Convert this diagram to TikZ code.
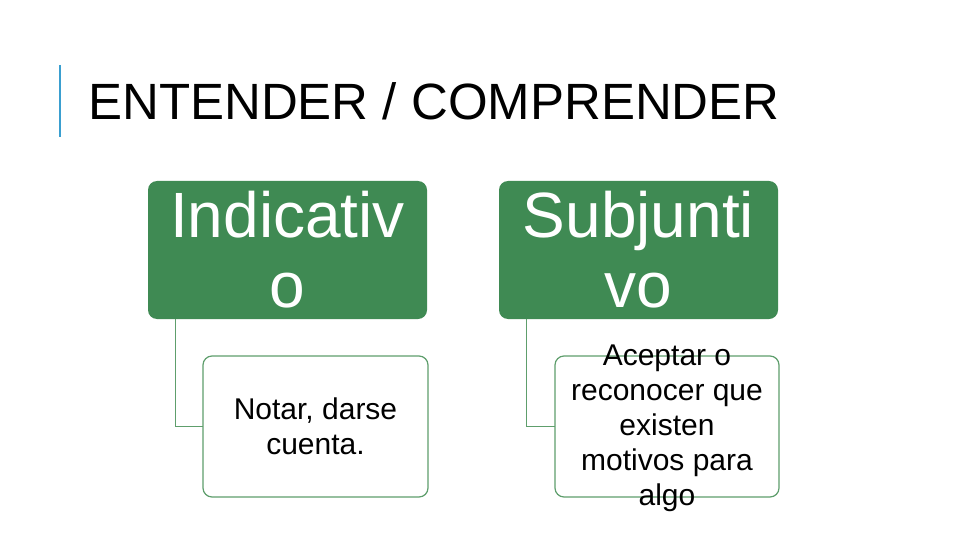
\documentclass[tikz,border=0pt]{standalone}
\usepackage{fontspec}
\setmainfont{Liberation Sans}
\definecolor{gr}{HTML}{3F8A53}
\definecolor{grl}{HTML}{5E9E6C}
\definecolor{bl}{HTML}{3A9FD0}
\begin{document}
\begin{tikzpicture}[x=1pt,y=-1pt,
 head/.style={fill=gr,rounded corners=9pt},
 htext/.style={text=white,font=\fontsize{64}{70}\selectfont,align=center,inner sep=0},
 sub/.style={draw=grl,line width=1.2pt,fill=white,rounded corners=9pt},
 stext/.style={font=\fontsize{30}{35}\selectfont,align=center,inner sep=0},
 conn/.style={draw=grl,line width=1pt}]
\useasboundingbox (0,0) rectangle (960,540);
\draw[bl,line width=2pt] (60,65) -- (60,137);
\node[anchor=base west,font=\fontsize{51}{60}\selectfont,inner sep=0] (t) at (88,120) {ENTENDER / COMPRENDER};
\path[head] (148,181) rectangle (427,319);
\node[htext] (h1) at (287.5,250) {Indicativ\\o};
\path[head] (499,181) rectangle (778,319);
\node[htext] (h2) at (638.5,250) {Subjunti\\vo};
\draw[sub] (203,356) rectangle (428,497);
\node[stext] (s1) at (315.5,426) {Notar, darse\\cuenta.};
\draw[sub] (555,356) rectangle (779,497);
\node[stext] (s2) at (667,428) {Aceptar o\\reconocer que\\existen\\motivos para\\algo};
\coordinate (a1) at (175,319); \coordinate (b1) at (203,426);
\coordinate (a2) at (526,319); \coordinate (b2) at (555,426);
\draw[conn] (a1) |- (b1);
\draw[conn] (a2) |- (b2);
\end{tikzpicture}
\end{document}
